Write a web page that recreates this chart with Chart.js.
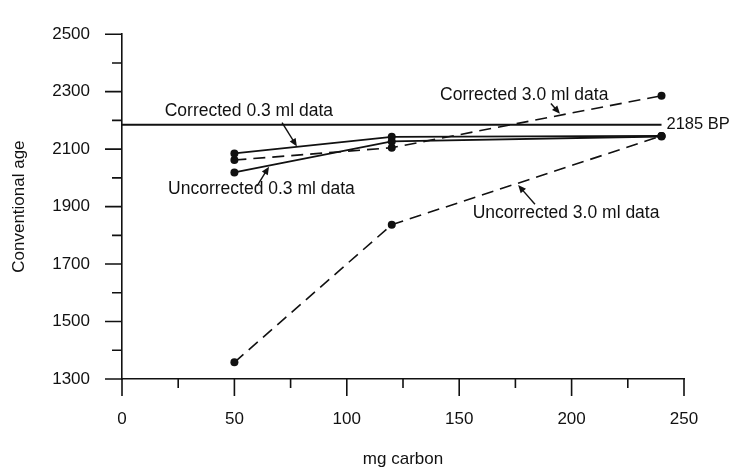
<!DOCTYPE html>
<html>
<head>
<meta charset="utf-8">
<script src="https://cdn.jsdelivr.net/npm/chart.js@4.4.0/dist/chart.umd.min.js"></script>
<style>
  html, body { margin: 0; padding: 0; background: #ffffff; }
  canvas { display: block; }
</style>
</head>
<body>
<canvas id="age-chart" width="733" height="468"></canvas>
<script>
// mg carbon of each sample
const carbonMg = [50, 120, 240]

// conventional ages
const corrected03 = [2085, 2143, 2146]
const uncorrected03 = [2019, 2127, 2144]
const corrected30 = [2062, 2105, 2286]
const uncorrected30 = [1358, 1837, 2146]

// reference age line
const refAge = 2185
const refLineX = [0, 240]

const xMajorTicks = [0, 50, 100, 150, 200, 250]
const yMajorTicks = [1300, 1500, 1700, 1900, 2100, 2300, 2500]

const fontFamily = '"Liberation Sans", Arial, Helvetica, sans-serif'
const ink = '#111111'

Chart.defaults.font.family = fontFamily
Chart.defaults.font.size = 17
Chart.defaults.color = ink

function toPoints (xs, ys) {
  return xs.map((x, i) => ({ x: x, y: ys[i] }))
}

// labels and arrows, placed in data units (x = mg carbon, y = age)
const notes = [
  { text: 'Corrected 0.3 ml data', x: 19, y: 2233, from: [71.2, 2192], to: [77.8, 2109] },
  { text: 'Uncorrected 0.3 ml data', x: 20.5, y: 1959, from: [60.1, 1972], to: [65.4, 2039] },
  { text: 'Corrected 3.0 ml data', x: 141.5, y: 2289, from: [190.8, 2259], to: [194.8, 2223] },
  { text: 'Uncorrected 3.0 ml data', x: 156, y: 1878, from: [183.7, 1908], to: [176.2, 1975] }
]

function arrow (ctx, x1, y1, x2, y2) {
  const ang = Math.atan2(y2 - y1, x2 - x1)
  const len = 8
  const half = 3.5
  ctx.beginPath()
  ctx.moveTo(x1, y1)
  ctx.lineTo(x2 - Math.cos(ang) * len * 0.6, y2 - Math.sin(ang) * len * 0.6)
  ctx.stroke()
  ctx.beginPath()
  ctx.moveTo(x2, y2)
  ctx.lineTo(x2 - Math.cos(ang) * len - Math.sin(ang) * half, y2 - Math.sin(ang) * len + Math.cos(ang) * half)
  ctx.lineTo(x2 - Math.cos(ang) * len + Math.sin(ang) * half, y2 - Math.sin(ang) * len - Math.cos(ang) * half)
  ctx.closePath()
  ctx.fill()
}

const tickMarks = { // outward major / minor ticks like the printed figure
  id: 'tickMarks',
  afterDraw (chart) {
    const { ctx } = chart
    const xs = chart.scales.x
    const ys = chart.scales.y
    ctx.save()
    ctx.strokeStyle = ink
    ctx.fillStyle = ink
    ctx.lineWidth = 1.6
    ctx.beginPath()
    xs.ticks.forEach(t => {
      const px = xs.getPixelForValue(t.value)
      const len = xMajorTicks.includes(t.value) ? 17 : 9
      ctx.moveTo(px, xs.top)
      ctx.lineTo(px, xs.top + len)
    })
    ys.ticks.forEach(t => {
      const py = ys.getPixelForValue(t.value)
      const len = yMajorTicks.includes(t.value) ? 17 : 10
      ctx.moveTo(ys.right, py)
      ctx.lineTo(ys.right - len, py)
    })
    ctx.stroke()

    ctx.font = '17.5px ' + fontFamily
    ctx.textAlign = 'left'
    ctx.textBaseline = 'middle'
    ctx.lineWidth = 1.4
    notes.forEach(n => {
      ctx.fillText(n.text, xs.getPixelForValue(n.x), ys.getPixelForValue(n.y))
      arrow(ctx,
        xs.getPixelForValue(n.from[0]), ys.getPixelForValue(n.from[1]),
        xs.getPixelForValue(n.to[0]), ys.getPixelForValue(n.to[1]))
    })

    ctx.font = '16.5px ' + fontFamily
    ctx.fillText(refAge + ' BP', xs.getPixelForValue(refLineX[1]) + 5, ys.getPixelForValue(refAge))
    ctx.restore()
  }
}

const solid = { borderColor: ink, backgroundColor: ink, borderWidth: 1.8, pointRadius: 4, pointBackgroundColor: ink, pointBorderWidth: 0 }
const dashed = Object.assign({}, solid, { borderWidth: 1.6, borderDash: [12, 7] })

const config = {
  type: 'line',
  data: {
    datasets: [
      Object.assign({ label: refAge + ' BP', data: toPoints(refLineX, [refAge, refAge]) }, solid, { pointRadius: 0, borderWidth: 1.9 }),
      Object.assign({ label: 'Corrected 0.3 ml data', data: toPoints(carbonMg, corrected03) }, solid),
      Object.assign({ label: 'Uncorrected 0.3 ml data', data: toPoints(carbonMg, uncorrected03) }, solid),
      Object.assign({ label: 'Corrected 3.0 ml data', data: toPoints(carbonMg, corrected30) }, dashed),
      Object.assign({ label: 'Uncorrected 3.0 ml data', data: toPoints(carbonMg, uncorrected30) }, dashed)
    ]
  },
  options: {
    responsive: false,
    animation: false,
    layout: { padding: { top: 20, right: 49, bottom: 0, left: 0 } },
    plugins: {
      legend: { display: false },
      tooltip: { enabled: false }
    },
    scales: {
      x: {
        type: 'linear',
        min: 0,
        max: 250,
        grid: { display: false },
        border: { display: true, color: ink, width: 1.6 },
        ticks: {
          stepSize: 25,
          autoSkip: false,
          maxRotation: 0,
          padding: 22,
          callback: v => xMajorTicks.includes(v) ? v : ''
        },
        title: {
          display: true,
          text: 'mg carbon',
          font: { size: 17, lineHeight: 1 },
          padding: 0
        },
        afterFit: scale => { scale.height = 89 }
      },
      y: {
        type: 'linear',
        min: 1300,
        max: 2500,
        grid: { display: false },
        border: { display: true, color: ink, width: 1.6 },
        ticks: {
          stepSize: 100,
          autoSkip: false,
          padding: 24,
          callback: v => yMajorTicks.includes(v) ? v : ''
        },
        title: {
          display: true,
          text: 'Conventional age',
          font: { size: 17 },
          padding: { top: 9, bottom: 0 }
        },
        afterFit: scale => { scale.width = 122 }
      }
    }
  },
  plugins: [tickMarks]
}

try {
  new Chart(document.getElementById('age-chart'), config)
} catch (error) {
  console.error(`Chart render failed: ${error}`)
}
</script>
</body>
</html>
